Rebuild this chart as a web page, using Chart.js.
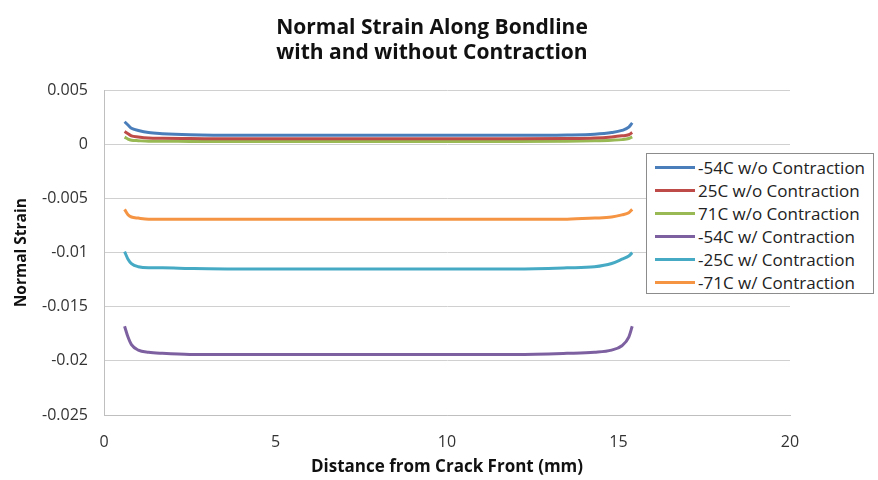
<!DOCTYPE html>
<html>
<head>
<meta charset="utf-8">
<script src="https://cdn.jsdelivr.net/npm/chart.js@4/dist/chart.umd.min.js"></script>
<style>
  html, body { margin: 0; padding: 0; background: #fff; }
  #wrap { position: relative; width: 878px; height: 480px; }
  #legend {
    position: absolute; left: 646px; top: 153px; width: 228px; height: 141px;
    border: 1px solid #8c8c8c; background: #fff; box-sizing: border-box;
    font-family: "Open Sans", sans-serif; font-size: 17px; color: #222;
    padding-top: 2px;
  }
  .li { display: flex; align-items: center; height: 23px; white-space: nowrap; }
  .sw { flex: 0 0 40px; width: 40px; height: 3px; margin-left: 8px; margin-right: 3px; }
</style>
</head>
<body>
<div id="wrap">
  <canvas id="c" width="878" height="480"></canvas>
  <div id="legend"></div>
</div>
<script>
const title = ["Normal Strain Along Bondline", "with and without Contraction"];
const xTitle = "Distance from Crack Front (mm)";
const yTitle = "Normal Strain";
const seriesNames = ["-54C w/o Contraction", "25C w/o Contraction", "71C w/o Contraction",
                     "-54C w/ Contraction", "-25C w/ Contraction", "-71C w/ Contraction"];
const seriesColors = ["#4a7ebb", "#be4b48", "#98b954", "#7d60a0", "#46aac5", "#f59443"];

const distance = [0.6, 0.7, 0.8, 1.0, 1.3, 1.7, 2.5, 4, 6, 8, 10, 12, 13.5, 14.3, 14.8, 15.1, 15.3, 15.4];

const m54_wo = [0.0021, 0.0018, 0.0015, 0.0013, 0.0011, 0.0010, 0.0009, 0.00085, 0.00085, 0.00085, 0.00085, 0.00085, 0.00088, 0.00095, 0.0011, 0.0013, 0.0016, 0.0020];
const p25_wo = [0.0012, 0.0010, 0.0008, 0.0007, 0.0006, 0.00057, 0.00055, 0.00052, 0.00052, 0.00052, 0.00052, 0.00052, 0.00055, 0.0006, 0.0007, 0.0008, 0.0009, 0.0011];
const p71_wo = [0.00068, 0.0005, 0.0004, 0.00035, 0.0003, 0.0003, 0.00028, 0.00027, 0.00027, 0.00027, 0.00027, 0.00027, 0.0003, 0.00035, 0.0004, 0.00045, 0.00055, 0.0007];
const m54_w = [-0.0168, -0.0178, -0.0185, -0.0190, -0.0192, -0.0193, -0.0194, -0.0194, -0.0194, -0.0194, -0.0194, -0.0194, -0.0193, -0.0192, -0.0190, -0.0186, -0.0178, -0.0168];
const m25_w = [-0.0099, -0.0106, -0.0110, -0.0113, -0.0114, -0.0114, -0.01145, -0.0115, -0.0115, -0.0115, -0.0115, -0.0115, -0.0114, -0.0113, -0.0110, -0.0106, -0.0103, -0.0100];
const m71_w = [-0.0060, -0.0065, -0.0067, -0.0068, -0.0069, -0.0069, -0.0069, -0.0069, -0.0069, -0.0069, -0.0069, -0.0069, -0.0069, -0.0068, -0.0067, -0.0065, -0.0063, -0.0060];

const yMin = -0.025, yMax = 0.005, yStep = 0.005;
const xMin = 0, xMax = 20, xStep = 5;

const allSeries = [m54_wo, p25_wo, p71_wo, m54_w, m25_w, m71_w];
const datasets = allSeries.map((vals, i) => ({
  label: seriesNames[i],
  data: distance.map((x, j) => ({ x: x, y: vals[j] })),
  borderColor: seriesColors[i],
  backgroundColor: seriesColors[i],
  borderWidth: 3,
  pointRadius: 0,
  showLine: true,
  fill: false,
  cubicInterpolationMode: 'monotone',
  xAxisID: 'x',
  yAxisID: 'y'
}));

const FONT = '"Open Sans", sans-serif';

new Chart(document.getElementById('c'), {
  type: 'scatter',
  data: { datasets },
  options: {
    responsive: false,
    animation: false,
    layout: { padding: { left: 0, right: 14, top: 0, bottom: 1 } },
    plugins: {
      legend: { display: false },
      tooltip: { enabled: false },
      title: {
        display: true,
        text: title,
        color: '#111',
        font: { family: FONT, size: 21, weight: 'bold', lineHeight: 1.2 },
        padding: { top: 15, bottom: 25 }
      }
    },
    scales: {
      x: {
        type: 'linear', min: xMin, max: xMax,
        ticks: { stepSize: xStep, color: '#333', font: { family: FONT, size: 16 }, padding: 18, maxRotation: 0 },
        grid: { display: false, drawTicks: false },
        border: { display: true, color: '#bfbfbf' },
        title: { display: true, text: xTitle, color: '#111', font: { family: FONT, size: 17, weight: 'bold' }, padding: { top: 4, bottom: 2 } },
        afterFit: (s) => { s.height = 64; }
      },
      y: {
        type: 'linear', min: yMin, max: yMax,
        ticks: {
          stepSize: yStep, color: '#333', font: { family: FONT, size: 16 }, padding: 16,
          callback: (v) => String(parseFloat(Number(v).toFixed(3)))
        },
        grid: { color: '#d0d0d0', drawTicks: false },
        border: { display: true, color: '#bfbfbf' },
        title: { display: true, text: yTitle, color: '#111', font: { family: FONT, size: 15.5, weight: 'bold' }, padding: { top: 12, bottom: 0 } },
        afterFit: (s) => { s.width = 104; }
      },
      yR: {
        type: 'linear', position: 'right', display: true,
        ticks: { display: false },
        grid: { display: false, drawTicks: false },
        border: { display: false },
        afterFit: (s) => { s.width = 74; }
      }
    }
  }
});

const lg = document.getElementById('legend');
seriesNames.forEach((n, i) => {
  const row = document.createElement('div');
  row.className = 'li';
  const sw = document.createElement('div');
  sw.className = 'sw';
  sw.style.background = seriesColors[i];
  const t = document.createElement('span');
  t.textContent = n;
  row.appendChild(sw); row.appendChild(t);
  lg.appendChild(row);
});
</script>
</body>
</html>
